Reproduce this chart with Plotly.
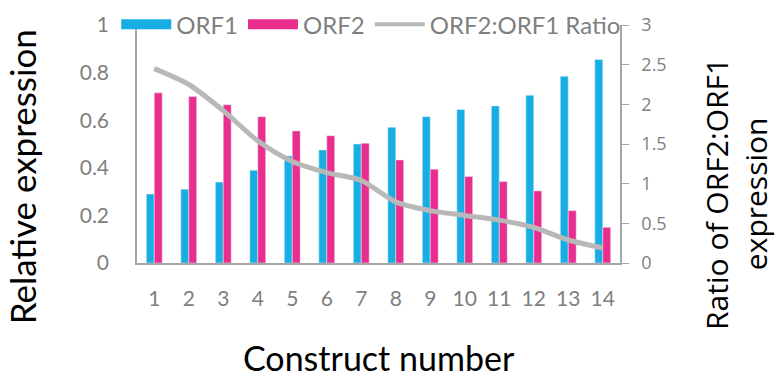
import plotly.graph_objects as go

constructs = [str(i) for i in range(1, 15)]
orf1 = [0.29, 0.31, 0.34, 0.39, 0.45, 0.475, 0.50, 0.57, 0.615, 0.645, 0.66, 0.705, 0.785, 0.855]
orf2 = [0.715, 0.70, 0.665, 0.615, 0.555, 0.535, 0.503, 0.433, 0.394, 0.363, 0.342, 0.303, 0.22, 0.15]
ratio = [2.45, 2.25, 1.92, 1.54, 1.28, 1.14, 1.04, 0.77, 0.66, 0.60, 0.54, 0.45, 0.29, 0.19]

BLUE = "#19AEE3"
PINK = "#EA2E8E"
GRAY_LINE = "#B8B8B8"
TICK_GRAY = "#7F7F7F"
AXIS_GRAY = "#A6A6A6"
GOTHIC = "Lato, 'DejaVu Sans', sans-serif"
CALIBRI = "'Open Sans', 'Liberation Sans', sans-serif"

fig = go.Figure()
fig.add_trace(go.Bar(x=constructs, y=orf1, name="ORF1", marker_color=BLUE, showlegend=False))
fig.add_trace(go.Bar(x=constructs, y=orf2, name="ORF2", marker_color=PINK, showlegend=False))
fig.add_trace(go.Scatter(x=constructs, y=ratio, name="ORF2:ORF1 Ratio", yaxis="y2", mode="lines",
                         line=dict(color=GRAY_LINE, width=5, shape="spline", smoothing=0.8),
                         showlegend=False))
# legend entries (wide swatches as in the original)
fig.add_trace(go.Scatter(x=[None], y=[None], mode="lines", name="ORF1", line=dict(color=BLUE, width=14)))
fig.add_trace(go.Scatter(x=[None], y=[None], mode="lines", name="ORF2", line=dict(color=PINK, width=14)))
fig.add_trace(go.Scatter(x=[None], y=[None], mode="lines", name="ORF2:ORF1 Ratio", line=dict(color=GRAY_LINE, width=4)))

fig.update_layout(
    width=780, height=379,
    margin=dict(l=137, r=160, t=25, b=116, autoexpand=False),
    paper_bgcolor="white", plot_bgcolor="white",
    barmode="group", bargap=0.54, bargroupgap=0,
    legend=dict(orientation="h", x=-0.043, xanchor="left", y=1.001, yanchor="middle",
                font=dict(family=GOTHIC, size=24, color=TICK_GRAY),
                itemwidth=50, bgcolor="rgba(0,0,0,0)", tracegroupgap=0),
    xaxis=dict(showline=True, linecolor=AXIS_GRAY, linewidth=1.5, ticks="",
               tickfont=dict(family=GOTHIC, size=21, color=TICK_GRAY), showgrid=False,
               ticklabelstandoff=16),
    yaxis=dict(range=[0, 1], dtick=0.2, showline=True, linecolor=AXIS_GRAY, linewidth=1.5,
               showgrid=False, zeroline=False, ticks="",
               tickfont=dict(family=GOTHIC, size=21, color=TICK_GRAY), ticklabelstandoff=22),
    yaxis2=dict(range=[0, 3], dtick=0.5, overlaying="y", side="right", showline=True,
                linecolor=AXIS_GRAY, linewidth=1.5, showgrid=False, zeroline=False,
                ticks="outside", ticklen=7, tickcolor=AXIS_GRAY,
                tickfont=dict(family=CALIBRI, size=18, color=TICK_GRAY), ticklabelstandoff=9),
    annotations=[
        dict(text="Relative expression", xref="paper", yref="paper", x=-0.238, y=0.36,
             xanchor="center", yanchor="middle", textangle=-90, showarrow=False,
             font=dict(family=GOTHIC, size=35, color="black")),
        dict(text="Construct number", xref="paper", yref="paper", x=0.5, y=-0.395,
             xanchor="center", yanchor="middle", showarrow=False,
             font=dict(family=GOTHIC, size=34, color="black")),
        dict(text="Ratio of ORF2:ORF1<br>expression", xref="paper", yref="paper", x=1.24, y=0.29,
             xanchor="center", yanchor="middle", textangle=-90, showarrow=False,
             font=dict(family=CALIBRI, size=30, color="black")),
    ],
)

fig.write_html("out.html", config={"displayModeBar": False},
               post_script="document.body.style.margin='0';")
